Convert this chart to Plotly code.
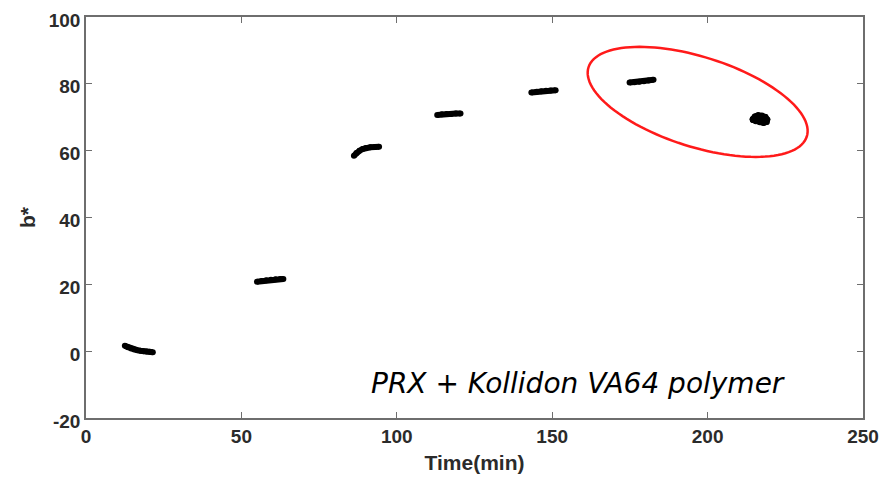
import numpy as np
import plotly.graph_objects as go

# ---- data ----
t1 = [12.5, 13.5, 14.5, 15.5, 16.5, 17.5, 18.5, 19.5, 20.5, 21.5]
b1 = [1.6, 1.2, 0.8, 0.5, 0.3, 0.15, 0.0, -0.1, -0.2, -0.3]

t2 = [55.0, 56.5, 58.0, 59.5, 61.0, 62.5, 63.5]
b2 = [20.8, 21.0, 21.2, 21.35, 21.5, 21.6, 21.6]

t3 = [86.2, 87.0, 88.0, 89.0, 90.0, 91.5, 93.0, 94.3]
b3 = [58.5, 59.3, 60.0, 60.5, 60.8, 61.0, 61.1, 61.2]

t4 = [113.0, 114.5, 116.0, 117.5, 119.0, 120.5]
b4 = [70.7, 70.9, 71.0, 71.0, 71.1, 71.1]

t5 = [143.3, 145.0, 146.5, 148.0, 149.5, 151.1]
b5 = [77.4, 77.6, 77.8, 77.9, 78.0, 78.1]

t6 = [174.9, 176.5, 178.0, 179.5, 181.0, 182.6]
b6 = [80.4, 80.5, 80.6, 80.8, 81.0, 81.2]

t7 = [214.5, 215.2, 216.3, 217.5, 218.6, 219.2, 219.0, 218.0, 216.8, 215.5, 214.6]
b7 = [69.4, 70.2, 70.6, 70.5, 70.1, 69.3, 68.6, 68.3, 68.5, 68.8, 69.2]

clusters = [(t1, b1), (t2, b2), (t3, b3), (t4, b4), (t5, b5), (t6, b6)]

x_ticks = [0, 50, 100, 150, 200, 250]
x_labels = ["0", "50", "100", "150", "200", "250"]
y_ticks = [-20, 0, 20, 40, 60, 80, 100]
y_labels = ["-20", "0", "20", "40", "60", "80", "100"]

FONT = "Liberation Sans, Arial, Helvetica, sans-serif"
TXT = "#2b2b2b"

fig = go.Figure()
for tx, by in clusters:
    fig.add_trace(go.Scatter(
        x=tx, y=by, mode="lines+markers",
        line=dict(color="black", width=6),
        marker=dict(color="black", size=6),
        showlegend=False, hoverinfo="x+y"))
fig.add_trace(go.Scatter(
    x=t7 + [t7[0]], y=b7 + [b7[0]], mode="lines+markers", fill="toself",
    fillcolor="black",
    line=dict(color="black", width=6),
    marker=dict(color="black", size=6),
    showlegend=False))

# ---- red ellipse (annotation shape), built in pixel space then mapped to data ----
px_x = 777.0 / 250.0   # pixels per minute
px_y = 401.0 / 120.0   # pixels per b* unit
cx, cy = 196.8, 74.6
a, bb, th = 114.5, 44.9, np.deg2rad(17.6)
phi = np.linspace(0, 2 * np.pi, 121)
ex = cx + (a * np.cos(phi) * np.cos(th) - bb * np.sin(phi) * np.sin(th)) / px_x
ey = cy - (a * np.cos(phi) * np.sin(th) + bb * np.sin(phi) * np.cos(th)) / px_y
path = "M " + " L ".join(f"{x:.3f},{y:.3f}" for x, y in zip(ex, ey)) + " Z"
fig.add_shape(type="path", path=path, xref="x", yref="y",
              line=dict(color="#ff1a1a", width=2.5))

fig.add_annotation(
    x=158.3, y=-9.6, xref="x", yref="y", xanchor="center", yanchor="middle",
    text="<i>PRX + Kollidon VA64 polymer</i>", showarrow=False,
    font=dict(family="DejaVu Sans, sans-serif", size=28, color="black"))

axis_common = dict(
    showline=True, linecolor="#6e6e6e", linewidth=1.5, mirror="ticks",
    ticks="inside", ticklen=6, tickcolor="#6e6e6e", tickwidth=1.2,
    showgrid=False, zeroline=False, automargin=False,
    ticklabeloverflow="allow",
    tickfont=dict(family=FONT, size=19, color=TXT, weight="bold"),
)

fig.update_xaxes(range=[0, 250], tickvals=x_ticks, ticktext=x_labels,
                 title=dict(text="<b>Time(min)</b>", standoff=10,
                            font=dict(family=FONT, size=21, color=TXT)),
                 **axis_common)
fig.update_yaxes(range=[-20, 100], tickvals=y_ticks, ticktext=y_labels,
                 ticklabelshift=3,
                 title=dict(text="<b>b*</b>", standoff=7,
                            font=dict(family=FONT, size=21, color=TXT)),
                 **axis_common)

# page body has an 8px default margin; compensate so the plot lands where the reference has it
fig.update_layout(
    width=873, height=467,
    margin=dict(l=78, r=18, t=9, b=57),
    paper_bgcolor="white", plot_bgcolor="white",
)

fig.write_html("out.html")
